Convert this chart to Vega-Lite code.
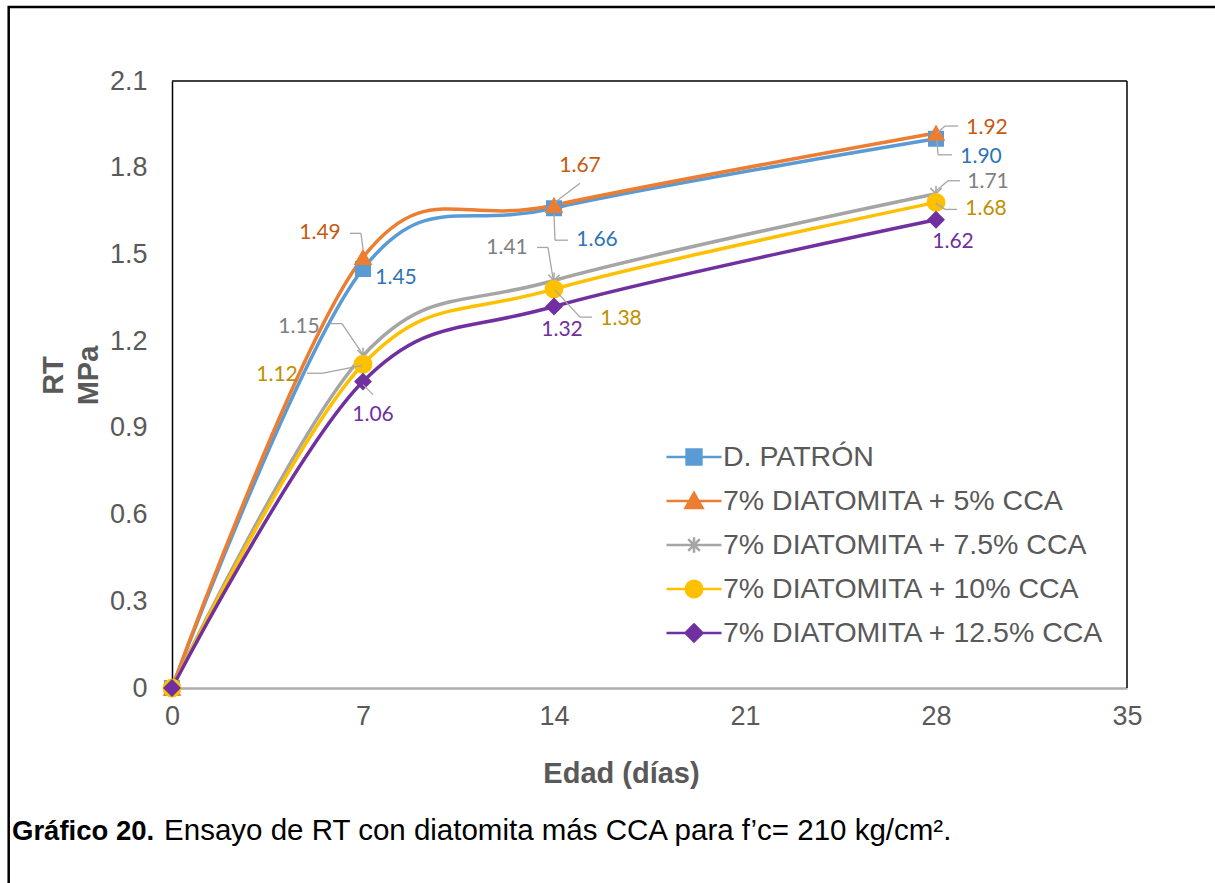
{
  "$schema": "https://vega.github.io/schema/vega-lite/v6.json",
  "width": 955,
  "height": 607,
  "autosize": {"type": "none"},
  "padding": {"left": 172, "top": 81, "right": 88, "bottom": 195},
  "background": "white",
  "config": {"font": "Liberation Sans", "view": {"stroke": null}},
  "data": {
    "values": [
      {"serie": "D. PATRÓN", "dia": 0, "rt": 0},
      {"serie": "D. PATRÓN", "dia": 7, "rt": 1.45},
      {"serie": "D. PATRÓN", "dia": 14, "rt": 1.66},
      {"serie": "D. PATRÓN", "dia": 28, "rt": 1.90},
      {"serie": "7% DIATOMITA + 5% CCA", "dia": 0, "rt": 0},
      {"serie": "7% DIATOMITA + 5% CCA", "dia": 7, "rt": 1.49},
      {"serie": "7% DIATOMITA + 5% CCA", "dia": 14, "rt": 1.67},
      {"serie": "7% DIATOMITA + 5% CCA", "dia": 28, "rt": 1.92},
      {"serie": "7% DIATOMITA + 7.5% CCA", "dia": 0, "rt": 0},
      {"serie": "7% DIATOMITA + 7.5% CCA", "dia": 7, "rt": 1.15},
      {"serie": "7% DIATOMITA + 7.5% CCA", "dia": 14, "rt": 1.41},
      {"serie": "7% DIATOMITA + 7.5% CCA", "dia": 28, "rt": 1.71},
      {"serie": "7% DIATOMITA + 10% CCA", "dia": 0, "rt": 0},
      {"serie": "7% DIATOMITA + 10% CCA", "dia": 7, "rt": 1.12},
      {"serie": "7% DIATOMITA + 10% CCA", "dia": 14, "rt": 1.38},
      {"serie": "7% DIATOMITA + 10% CCA", "dia": 28, "rt": 1.68},
      {"serie": "7% DIATOMITA + 12.5% CCA", "dia": 0, "rt": 0},
      {"serie": "7% DIATOMITA + 12.5% CCA", "dia": 7, "rt": 1.06},
      {"serie": "7% DIATOMITA + 12.5% CCA", "dia": 14, "rt": 1.32},
      {"serie": "7% DIATOMITA + 12.5% CCA", "dia": 28, "rt": 1.62}
    ]
  },
  "layer": [
    {
      "data": {"values": [{}]},
      "mark": {"type": "rect", "fillOpacity": 0, "stroke": "#000000", "strokeWidth": 2.5},
      "encoding": {
        "x": {"datum": -5.985, "type": "quantitative"},
        "x2": {"datum": 38.6},
        "y": {"datum": 2.356, "type": "quantitative"},
        "y2": {"datum": -0.75}
      }
    },
    {
      "data": {"values": [{}]},
      "mark": {"type": "rule", "stroke": "#000000", "strokeWidth": 1.5},
      "encoding": {
        "x": {"datum": 0, "type": "quantitative"},
        "x2": {"datum": 35},
        "y": {"datum": 2.1, "type": "quantitative"}
      }
    },
    {
      "data": {"values": [{}]},
      "mark": {"type": "rule", "stroke": "#000000", "strokeWidth": 1.5},
      "encoding": {
        "x": {"datum": 35, "type": "quantitative"},
        "y": {"datum": 0, "type": "quantitative"},
        "y2": {"datum": 2.1}
      }
    },
    {
      "mark": {"type": "line", "interpolate": "cardinal", "strokeWidth": 3.5},
      "encoding": {
        "x": {
          "field": "dia",
          "type": "quantitative",
          "scale": {"domain": [0, 35], "nice": false, "zero": false},
          "axis": {
            "values": [0, 7, 14, 21, 28, 35],
            "title": "Edad (días)",
            "titleFontSize": 29,
            "titleFontWeight": "bold",
            "titleColor": "#595959",
            "titleX": 449,
            "titleY": 94,
            "titleAlign": "center",
            "titleBaseline": "alphabetic",
            "labelFontSize": 27,
            "labelColor": "#595959",
            "labelPadding": 15,
            "labelFlush": false,
            "labelOverlap": false,
            "ticks": false,
            "tickSize": 0,
            "grid": false,
            "domainColor": "#ADADAD",
            "domainWidth": 2.5
          }
        },
        "y": {
          "field": "rt",
          "type": "quantitative",
          "scale": {"domain": [0, 2.1], "nice": false},
          "axis": {
            "values": [0, 0.3, 0.6, 0.9, 1.2, 1.5, 1.8, 2.1],
            "format": ".1~f",
            "title": ["RT", "MPa"],
            "titleFontSize": 29,
            "titleFontWeight": "bold",
            "titleColor": "#595959",
            "titleX": -110,
            "titleY": 294,
            "titleAlign": "center",
            "titleBaseline": "alphabetic",
            "titleLineHeight": 35,
            "labelFontSize": 27,
            "labelColor": "#595959",
            "labelPadding": 25,
            "labelOverlap": false,
            "ticks": false,
            "tickSize": 0,
            "grid": false,
            "domainColor": "#000000",
            "domainWidth": 1.5
          }
        },
        "color": {
          "field": "serie",
          "type": "nominal",
          "scale": {
            "domain": ["D. PATRÓN", "7% DIATOMITA + 5% CCA", "7% DIATOMITA + 7.5% CCA", "7% DIATOMITA + 10% CCA", "7% DIATOMITA + 12.5% CCA"],
            "range": ["#5B9BD5", "#ED7D31", "#A5A5A5", "#FFC000", "#7030A0"]
          },
          "legend": {
            "orient": "none",
            "legendX": 493,
            "legendY": 347,
            "title": null,
            "padding": 0,
            "symbolSize": 3025,
            "symbolStrokeWidth": 2.5,
            "labelFontSize": 28.5,
            "labelFont": "Liberation Sans",
            "labelColor": "#595959",
            "labelOffset": 0,
            "labelLimit": 0,
            "rowPadding": -8,
            "encode": {
              "symbols": {
                "update": {
                  "shape": {"signal": "({'D. PATRÓN': 'M-1,0H1M-0.27,-0.27H0.27V0.27H-0.27Z', '7% DIATOMITA + 5% CCA': 'M-1,0H1M0,-0.3L0.31,0.25H-0.31Z', '7% DIATOMITA + 7.5% CCA': 'M-1,0H1M0,-0.28V0.28M-0.21,-0.21L0.21,0.21M-0.21,0.21L0.21,-0.21', '7% DIATOMITA + 10% CCA': 'M-1,0H1M0.3,0A0.3,0.3,0,1,1,-0.3,0A0.3,0.3,0,1,1,0.3,0Z', '7% DIATOMITA + 12.5% CCA': 'M-1,0H1M0,-0.31L0.31,0L0,0.31L-0.31,0Z'})[datum.value]"},
                  "fill": {"signal": "scale('color', datum.value)"},
                  "stroke": {"signal": "scale('color', datum.value)"},
                  "strokeWidth": {"value": 2.5},
                  "opacity": {"value": 1}
                }
              }
            }
          }
        }
      }
    },
    {
      "mark": {
        "type": "point",
        "filled": true,
        "opacity": 1,
        "strokeWidth": 1.5,
        "shape": {"expr": "({'D. PATRÓN':'square','7% DIATOMITA + 5% CCA':'triangle-up','7% DIATOMITA + 7.5% CCA':'M0,-1V1M-0.7,-0.7L0.7,0.7M-0.7,0.7L0.7,-0.7','7% DIATOMITA + 10% CCA':'circle','7% DIATOMITA + 12.5% CCA':'diamond'})[datum.serie]"},
        "size": {"expr": "({'D. PATRÓN':210,'7% DIATOMITA + 5% CCA':260,'7% DIATOMITA + 7.5% CCA':256,'7% DIATOMITA + 10% CCA':300,'7% DIATOMITA + 12.5% CCA':250})[datum.serie]"},
        "fill": {"expr": "({'D. PATRÓN':'#5B9BD5','7% DIATOMITA + 5% CCA':'#ED7D31','7% DIATOMITA + 7.5% CCA':'#A5A5A5','7% DIATOMITA + 10% CCA':'#FFC000','7% DIATOMITA + 12.5% CCA':'#7030A0'})[datum.serie]"},
        "stroke": {"expr": "({'D. PATRÓN':'#5B9BD5','7% DIATOMITA + 5% CCA':'#ED7D31','7% DIATOMITA + 7.5% CCA':'#A5A5A5','7% DIATOMITA + 10% CCA':'#FFC000','7% DIATOMITA + 12.5% CCA':'#7030A0'})[datum.serie]"}
      },
      "encoding": {
        "x": {"field": "dia", "type": "quantitative"},
        "y": {"field": "rt", "type": "quantitative"}
      }
    },
    {
      "transform": [{"filter": "indexof(['1.49','1.67','1.66','1.41','1.38','1.92','1.90','1.71','1.68','1.15','1.12','1.06'], format(datum.rt, '.2f')) >= 0"}],
      "mark": {
        "type": "rule",
        "stroke": "#A6A6A6",
        "strokeWidth": 1.3,
        "xOffset": {"expr": "({'1.49':[-13,-24,-2,-24,0,-8],'1.67':[26,-22,26,-22,1,-3],'1.66':[14,32,1,32,0,6],'1.41':[-17,-33,-6,-33,-1,-2],'1.38':[38,28,26,28,1,1],'1.92':[22,-7,9,-7,1,0],'1.90':[16,16,2,16,1,2],'1.71':[24,-13,12,-13,-1,-2],'1.68':[21,7,9,7,0,1],'1.15':[-33,-32,-21,-32,0,-1],'1.12':[-56,9,-41,9,-1,1],'1.06':[10,13,10,13,0,3]})[format(datum.rt, '.2f')][0]"},
        "yOffset": {"expr": "({'1.49':[-13,-24,-2,-24,0,-8],'1.67':[26,-22,26,-22,1,-3],'1.66':[14,32,1,32,0,6],'1.41':[-17,-33,-6,-33,-1,-2],'1.38':[38,28,26,28,1,1],'1.92':[22,-7,9,-7,1,0],'1.90':[16,16,2,16,1,2],'1.71':[24,-13,12,-13,-1,-2],'1.68':[21,7,9,7,0,1],'1.15':[-33,-32,-21,-32,0,-1],'1.12':[-56,9,-41,9,-1,1],'1.06':[10,13,10,13,0,3]})[format(datum.rt, '.2f')][1]"},
        "x2Offset": {"expr": "({'1.49':[-13,-24,-2,-24,0,-8],'1.67':[26,-22,26,-22,1,-3],'1.66':[14,32,1,32,0,6],'1.41':[-17,-33,-6,-33,-1,-2],'1.38':[38,28,26,28,1,1],'1.92':[22,-7,9,-7,1,0],'1.90':[16,16,2,16,1,2],'1.71':[24,-13,12,-13,-1,-2],'1.68':[21,7,9,7,0,1],'1.15':[-33,-32,-21,-32,0,-1],'1.12':[-56,9,-41,9,-1,1],'1.06':[10,13,10,13,0,3]})[format(datum.rt, '.2f')][2]"},
        "y2Offset": {"expr": "({'1.49':[-13,-24,-2,-24,0,-8],'1.67':[26,-22,26,-22,1,-3],'1.66':[14,32,1,32,0,6],'1.41':[-17,-33,-6,-33,-1,-2],'1.38':[38,28,26,28,1,1],'1.92':[22,-7,9,-7,1,0],'1.90':[16,16,2,16,1,2],'1.71':[24,-13,12,-13,-1,-2],'1.68':[21,7,9,7,0,1],'1.15':[-33,-32,-21,-32,0,-1],'1.12':[-56,9,-41,9,-1,1],'1.06':[10,13,10,13,0,3]})[format(datum.rt, '.2f')][3]"}
      },
      "encoding": {
        "x": {"field": "dia", "type": "quantitative"},
        "x2": {"field": "dia"},
        "y": {"field": "rt", "type": "quantitative"},
        "y2": {"field": "rt"}
      }
    },
    {
      "transform": [{"filter": "indexof(['1.49','1.67','1.66','1.41','1.38','1.92','1.90','1.71','1.68','1.15','1.12','1.06'], format(datum.rt, '.2f')) >= 0"}],
      "mark": {
        "type": "rule",
        "stroke": "#A6A6A6",
        "strokeWidth": 1.3,
        "xOffset": {"expr": "({'1.49':[-13,-24,-2,-24,0,-8],'1.67':[26,-22,26,-22,1,-3],'1.66':[14,32,1,32,0,6],'1.41':[-17,-33,-6,-33,-1,-2],'1.38':[38,28,26,28,1,1],'1.92':[22,-7,9,-7,1,0],'1.90':[16,16,2,16,1,2],'1.71':[24,-13,12,-13,-1,-2],'1.68':[21,7,9,7,0,1],'1.15':[-33,-32,-21,-32,0,-1],'1.12':[-56,9,-41,9,-1,1],'1.06':[10,13,10,13,0,3]})[format(datum.rt, '.2f')][2]"},
        "yOffset": {"expr": "({'1.49':[-13,-24,-2,-24,0,-8],'1.67':[26,-22,26,-22,1,-3],'1.66':[14,32,1,32,0,6],'1.41':[-17,-33,-6,-33,-1,-2],'1.38':[38,28,26,28,1,1],'1.92':[22,-7,9,-7,1,0],'1.90':[16,16,2,16,1,2],'1.71':[24,-13,12,-13,-1,-2],'1.68':[21,7,9,7,0,1],'1.15':[-33,-32,-21,-32,0,-1],'1.12':[-56,9,-41,9,-1,1],'1.06':[10,13,10,13,0,3]})[format(datum.rt, '.2f')][3]"},
        "x2Offset": {"expr": "({'1.49':[-13,-24,-2,-24,0,-8],'1.67':[26,-22,26,-22,1,-3],'1.66':[14,32,1,32,0,6],'1.41':[-17,-33,-6,-33,-1,-2],'1.38':[38,28,26,28,1,1],'1.92':[22,-7,9,-7,1,0],'1.90':[16,16,2,16,1,2],'1.71':[24,-13,12,-13,-1,-2],'1.68':[21,7,9,7,0,1],'1.15':[-33,-32,-21,-32,0,-1],'1.12':[-56,9,-41,9,-1,1],'1.06':[10,13,10,13,0,3]})[format(datum.rt, '.2f')][4]"},
        "y2Offset": {"expr": "({'1.49':[-13,-24,-2,-24,0,-8],'1.67':[26,-22,26,-22,1,-3],'1.66':[14,32,1,32,0,6],'1.41':[-17,-33,-6,-33,-1,-2],'1.38':[38,28,26,28,1,1],'1.92':[22,-7,9,-7,1,0],'1.90':[16,16,2,16,1,2],'1.71':[24,-13,12,-13,-1,-2],'1.68':[21,7,9,7,0,1],'1.15':[-33,-32,-21,-32,0,-1],'1.12':[-56,9,-41,9,-1,1],'1.06':[10,13,10,13,0,3]})[format(datum.rt, '.2f')][5]"}
      },
      "encoding": {
        "x": {"field": "dia", "type": "quantitative"},
        "x2": {"field": "dia"},
        "y": {"field": "rt", "type": "quantitative"},
        "y2": {"field": "rt"}
      }
    },
    {
      "transform": [{"filter": "datum.dia > 0"}],
      "mark": {
        "type": "text",
        "font": "Lato",
        "fontSize": 21,
        "align": "center",
        "baseline": "middle",
        "dx": {"expr": "({'1.45':33,'1.66':43,'1.90':45,'1.49':-43,'1.67':26,'1.92':51,'1.15':-64,'1.41':-47,'1.71':52,'1.12':-86,'1.38':67,'1.68':50,'1.06':10,'1.32':8,'1.62':17})[format(datum.rt, '.2f')]"},
        "dy": {"expr": "({'1.45':9,'1.66':32,'1.90':18,'1.49':-24,'1.67':-39,'1.92':-5,'1.15':-29,'1.41':-32,'1.71':-12,'1.12':11,'1.38':30,'1.68':7,'1.06':33,'1.32':24,'1.62':22})[format(datum.rt, '.2f')]"},
        "fill": {"expr": "({'D. PATRÓN':'#2E75B6','7% DIATOMITA + 5% CCA':'#C55A11','7% DIATOMITA + 7.5% CCA':'#7F7F7F','7% DIATOMITA + 10% CCA':'#BF9000','7% DIATOMITA + 12.5% CCA':'#7030A0'})[datum.serie]"}
      },
      "encoding": {
        "x": {"field": "dia", "type": "quantitative"},
        "y": {"field": "rt", "type": "quantitative"},
        "text": {"field": "rt", "type": "quantitative", "format": ".2f"}
      }
    },
    {
      "data": {"values": [{}]},
      "mark": {"type": "text", "align": "left", "baseline": "alphabetic", "font": "Liberation Sans", "fontSize": 27.5, "fontWeight": "bold", "fill": "#000000"},
      "encoding": {
        "x": {"datum": -5.864, "type": "quantitative"},
        "y": {"datum": -0.526, "type": "quantitative"},
        "text": {"value": "Gráfico 20."}
      }
    },
    {
      "data": {"values": [{}]},
      "mark": {"type": "text", "align": "left", "baseline": "alphabetic", "font": "Liberation Sans", "fontSize": 29.5, "fill": "#000000"},
      "encoding": {
        "x": {"datum": -0.29, "type": "quantitative"},
        "y": {"datum": -0.526, "type": "quantitative"},
        "text": {"value": "Ensayo de RT con diatomita más CCA para f’c= 210 kg/cm²."}
      }
    }
  ]
}
